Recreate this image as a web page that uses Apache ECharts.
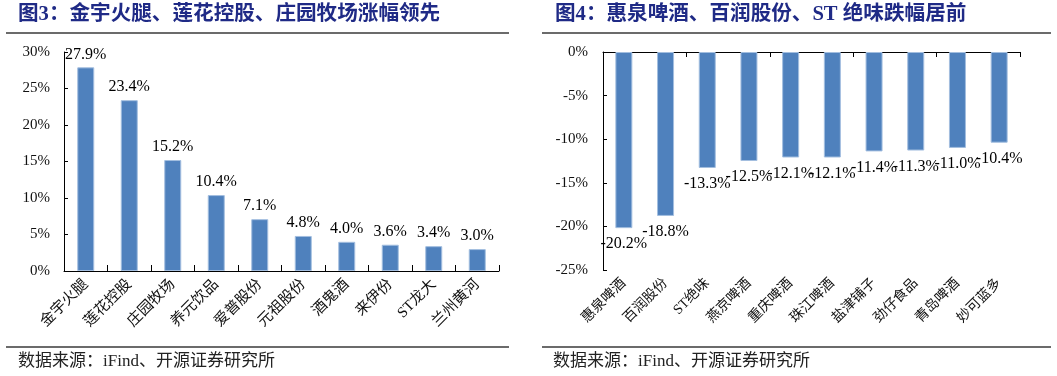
<!DOCTYPE html>
<html>
<head>
<meta charset="utf-8">
<script src="https://cdn.jsdelivr.net/npm/echarts@6/dist/echarts.min.js"></script>
<style>
html,body{margin:0;padding:0;background:#fff;}
#c{width:1057px;height:376px;}
</style>
</head>
<body>
<div id="c"></div>
<script>
// ---- data ----
var leftTitle = '图3：金宇火腿、莲花控股、庄园牧场涨幅领先';
var rightTitle = '图4：惠泉啤酒、百润股份、ST 绝味跌幅居前';
var sourceText = '数据来源：iFind、开源证券研究所';

var leftCategories = ['金宇火腿', '莲花控股', '庄园牧场', '养元饮品', '爱普股份', '元祖股份', '酒鬼酒', '来伊份', 'ST龙大', '兰州黄河'];
var leftValues = [27.9, 23.4, 15.2, 10.4, 7.1, 4.8, 4.0, 3.6, 3.4, 3.0];

var rightCategories = ['惠泉啤酒', '百润股份', 'ST绝味', '燕京啤酒', '重庆啤酒', '珠江啤酒', '盐津铺子', '劲仔食品', '青岛啤酒', '妙可蓝多'];
var rightValues = [-20.2, -18.8, -13.3, -12.5, -12.1, -12.1, -11.4, -11.3, -11.0, -10.4];

var leftAxis = { min: 0, max: 30, interval: 5 };
var rightAxis = { min: -25, max: 0, interval: 5 };

// ---- style ----
var SERIF = '"Liberation Serif", "Times New Roman", "Noto Sans CJK SC", serif';
var CJK = '"Liberation Serif", "Noto Sans CJK SC", sans-serif';
var BAR = '#4F81BD';
var TITLE = '#1F2A86';

var chart = echarts.init(document.getElementById('c'));

function pct(p) { return p.value.toFixed(1) + '%'; }

var yAxisCommon = {
  type: 'value',
  axisLine: { show: true, lineStyle: { color: '#000', width: 1 } },
  axisTick: { show: true, inside: true, length: 4, lineStyle: { color: '#000' } },
  splitLine: { show: false },
  axisLabel: { formatter: '{value}%', fontFamily: SERIF, fontSize: 15, color: '#111' }
};

var option = {
  animation: false,
  backgroundColor: '#fff',
  grid: [
    { left: 64, right: 558, top: 52, bottom: 105 },
    { left: 603, right: 37, top: 52, bottom: 106 }
  ],
  xAxis: [
    {
      type: 'category', gridIndex: 0, data: leftCategories,
      axisLine: { show: true, lineStyle: { color: '#000', width: 1 } },
      axisTick: { show: true, inside: true, length: 6, alignWithLabel: false, lineStyle: { color: '#000' } },
      axisLabel: { rotate: 45, interval: 0, margin: 11, fontFamily: CJK, fontSize: 15, color: '#111' }
    },
    {
      type: 'category', gridIndex: 1, data: rightCategories, position: 'top',
      axisLine: { show: true, onZero: false, lineStyle: { color: '#000', width: 1 } },
      axisTick: { show: true, inside: true, length: 5, alignWithLabel: false, lineStyle: { color: '#000' } },
      axisLabel: { show: false }
    },
    {
      type: 'category', gridIndex: 1, data: rightCategories, position: 'bottom',
      axisLine: { show: false },
      axisTick: { show: false },
      axisLabel: { rotate: 45, interval: 0, margin: 11, fontFamily: CJK, fontSize: 14, color: '#111' }
    }
  ],
  yAxis: [
    Object.assign({}, yAxisCommon, { gridIndex: 0, min: leftAxis.min, max: leftAxis.max, interval: leftAxis.interval,
      axisLabel: Object.assign({}, yAxisCommon.axisLabel, { margin: 14 }) }),
    Object.assign({}, yAxisCommon, { gridIndex: 1, min: rightAxis.min, max: rightAxis.max, interval: rightAxis.interval,
      axisLabel: Object.assign({}, yAxisCommon.axisLabel, { margin: 15 }) })
  ],
  series: [
    {
      type: 'bar', xAxisIndex: 0, yAxisIndex: 0, data: leftValues, barWidth: 17,
      itemStyle: { color: BAR, borderColor: '#A3BEDF', borderWidth: 1 },
      label: { show: true, position: 'top', distance: 5, formatter: pct, fontFamily: SERIF, fontSize: 16, color: '#000' }
    },
    {
      type: 'bar', xAxisIndex: 1, yAxisIndex: 1, data: rightValues, barWidth: 17,
      itemStyle: { color: BAR, borderColor: '#A3BEDF', borderWidth: 1 },
      label: { show: true, position: 'bottom', distance: 8, formatter: pct, fontFamily: SERIF, fontSize: 16, color: '#000' }
    }
  ],
  graphic: [
    { type: 'text', left: 18, top: 4, style: { text: leftTitle, font: 'bold 20.6px ' + CJK, fill: TITLE } },
    { type: 'text', left: 555, top: 4, style: { text: rightTitle, font: 'bold 20.6px ' + CJK, fill: TITLE } },
    { type: 'line', shape: { x1: 6, y1: 33, x2: 509, y2: 33 }, style: { stroke: '#3a3a3a', lineWidth: 1.5 } },
    { type: 'line', shape: { x1: 542, y1: 33, x2: 1051, y2: 33 }, style: { stroke: '#3a3a3a', lineWidth: 1.5 } },
    { type: 'line', shape: { x1: 6, y1: 347, x2: 509, y2: 347 }, style: { stroke: '#3a3a3a', lineWidth: 1.5 } },
    { type: 'line', shape: { x1: 542, y1: 347, x2: 1051, y2: 347 }, style: { stroke: '#3a3a3a', lineWidth: 1.5 } },
    { type: 'text', left: 18, top: 353, style: { text: sourceText, font: '17px ' + CJK, fill: '#222' } },
    { type: 'text', left: 553, top: 353, style: { text: sourceText, font: '17px ' + CJK, fill: '#222' } }
  ]
};
chart.setOption(option);
</script>
</body>
</html>
